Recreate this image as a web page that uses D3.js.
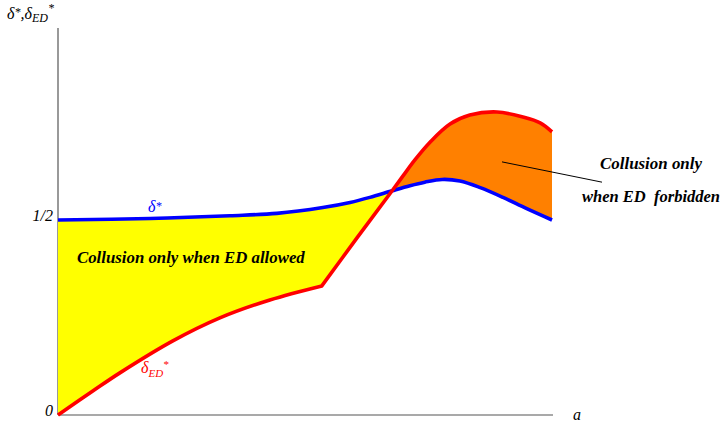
<!DOCTYPE html>
<html><head><meta charset="utf-8">
<script src="https://cdn.jsdelivr.net/npm/d3@7"></script>
<style>
body{margin:0;background:#fff} svg{display:block}
text{font-family:"Liberation Serif","Tinos","Times New Roman","Times","Nimbus Roman","Nimbus Roman No9 L","FreeSerif","DejaVu Serif","Noto Serif",serif;}
</style>
</head><body>
<svg id="chart" width="725" height="424"></svg>
<script>
// δ* (blue) curve: parameter a, value
const blueA = [0, 0.186, 0.347, 0.442, 0.535, 0.590, 0.630, 0.675, 0.711, 0.741, 0.776, 0.812, 0.853, 0.899, 0.947, 0.998];
const blueV = [0.500, 0.504, 0.511, 0.517, 0.532, 0.545, 0.558, 0.575, 0.588, 0.597, 0.604, 0.600, 0.583, 0.558, 0.529, 0.500];
// δ_ED* (red) curve, lower branch (up to the kink)
const redLowA = [0, 0.071, 0.125, 0.232, 0.327, 0.428, 0.533];
const redLowV = [0, 0.062, 0.108, 0.190, 0.249, 0.295, 0.331];
// δ_ED* (red) curve, upper branch (from the kink)
const redUpA = [0.533, 0.604, 0.675, 0.697, 0.721, 0.752, 0.792, 0.832, 0.887, 0.939, 0.974, 0.998];
const redUpV = [0.331, 0.454, 0.575, 0.613, 0.654, 0.700, 0.746, 0.769, 0.777, 0.764, 0.749, 0.726];
// axis ticks
const yTicks = [0, 0.5];
const yTickLabels = ["0", "1/2"];

const svg = d3.select("#chart");
const W = 725, H = 424;
const x = d3.scaleLinear().domain([0, 1]).range([58, 553]);
const y = d3.scaleLinear().domain([0, 1]).range([415, 25]);

const blue = blueA.map((a, i) => [a, blueV[i]]);
const redLow = redLowA.map((a, i) => [a, redLowV[i]]);
const redUp = redUpA.map((a, i) => [a, redUpV[i]]);

const line = d3.line().x(d => x(d[0])).y(d => y(d[1])).curve(d3.curveCatmullRom.alpha(0.5));
const bluePath = line(blue);
const redPath = line(redLow) + line(redUp).replace(/^M/, "L");
const bEnd = x(blueA[blueA.length - 1]), rEnd = x(redUpA[redUpA.length - 1]);
const x0 = x(0);

const defs = svg.append("defs");
defs.append("clipPath").attr("id", "aboveRed").append("path")
  .attr("d", redPath + `L${rEnd},0L${x0},0Z`);
defs.append("clipPath").attr("id", "aboveBlue").append("path")
  .attr("d", bluePath + `L${bEnd},0L${x0},0Z`);

// axes
const axisColor = "#555";
svg.append("line").attr("x1", x(0)).attr("x2", x(0)).attr("y1", y(0)).attr("y2", y(0.992))
  .attr("stroke", axisColor).attr("stroke-width", 1.2);
svg.append("line").attr("x1", x(0)).attr("x2", x(1)).attr("y1", y(0)).attr("y2", y(0))
  .attr("stroke", axisColor).attr("stroke-width", 1.2);

const yAxis = svg.append("g").attr("transform", `translate(${x(0)},0)`)
  .call(d3.axisLeft(y).tickValues(yTicks).tickFormat((d, i) => yTickLabels[i]).tickSize(0).tickPadding(5));
yAxis.attr("font-family", null);
yAxis.select(".domain").remove();
yAxis.selectAll("text")
  .attr("dy", "0.05em")
  .attr("font-style", "italic").attr("font-size", 16).attr("fill", "#000");

// fills
svg.append("path")
  .attr("d", bluePath + `L${bEnd},${H}L${x0},${H}Z`)
  .attr("fill", "#ffff00").attr("clip-path", "url(#aboveRed)");
svg.append("path")
  .attr("d", redPath + `L${rEnd},${H}L${x0},${H}Z`)
  .attr("fill", "#ff8000").attr("clip-path", "url(#aboveBlue)");

// curves
svg.append("path").attr("d", bluePath).attr("fill", "none")
  .attr("stroke", "#0000ff").attr("stroke-width", 3.6);
svg.append("path").attr("d", redPath).attr("fill", "none")
  .attr("stroke", "#ff0000").attr("stroke-width", 3.6).attr("stroke-linejoin", "miter");

// annotation pointer
svg.append("line")
  .attr("x1", x(0.897)).attr("y1", y(0.649))
  .attr("x2", x(1.099)).attr("y2", y(0.597))
  .attr("stroke", "#000").attr("stroke-width", 1);

// axis title top-left
const t1 = svg.append("text").attr("x", 7).attr("y", 19)
  .attr("font-style", "italic").attr("font-size", 16).attr("fill", "#000");
t1.append("tspan").text("δ");
t1.append("tspan").attr("font-size", 12).attr("dy", -3).text("*");
t1.append("tspan").attr("dy", 3).text(",δ");
t1.append("tspan").attr("font-size", 12).attr("dy", 3).text("ED");
t1.append("tspan").attr("font-size", 12).attr("dy", -10).text("*");

// x label
svg.append("text").attr("x", 573).attr("y", 420)
  .attr("font-style", "italic").attr("font-size", 16).text("a");

// curve labels
const tb = svg.append("text").attr("x", 148).attr("y", 212)
  .attr("font-style", "italic").attr("font-size", 16).attr("fill", "#0000ff");
tb.append("tspan").text("δ");
tb.append("tspan").attr("font-size", 12).attr("dy", -2).text("*");

const tr = svg.append("text").attr("x", 141).attr("y", 373)
  .attr("font-style", "italic").attr("font-size", 16).attr("fill", "#ff0000");
tr.append("tspan").text("δ");
tr.append("tspan").attr("font-size", 11).attr("dy", 4).text("ED");
tr.append("tspan").attr("font-size", 11).attr("dy", -9).text("*");

// region labels, sized so that their widths match the reference
function fit(sel, target) {
  const w = sel.node().getComputedTextLength();
  if (w > 0) sel.attr("font-size", 15 * target / w);
  return sel;
}
const bold = sel => sel.attr("font-style", "italic")
  .attr("font-weight", "bold").attr("font-size", 15).attr("fill", "#000");
fit(svg.append("text").attr("x", 77).attr("y", 263).call(bold).text("Collusion only when ED allowed"), 228);
fit(svg.append("text").attr("x", 651).attr("y", 169).attr("text-anchor", "middle").call(bold).text("Collusion only"), 102);
fit(svg.append("text").attr("x", 651).attr("y", 202).attr("text-anchor", "middle").call(bold)
  .style("white-space", "pre").text("when ED  forbidden"), 138);
</script>
</body></html>
